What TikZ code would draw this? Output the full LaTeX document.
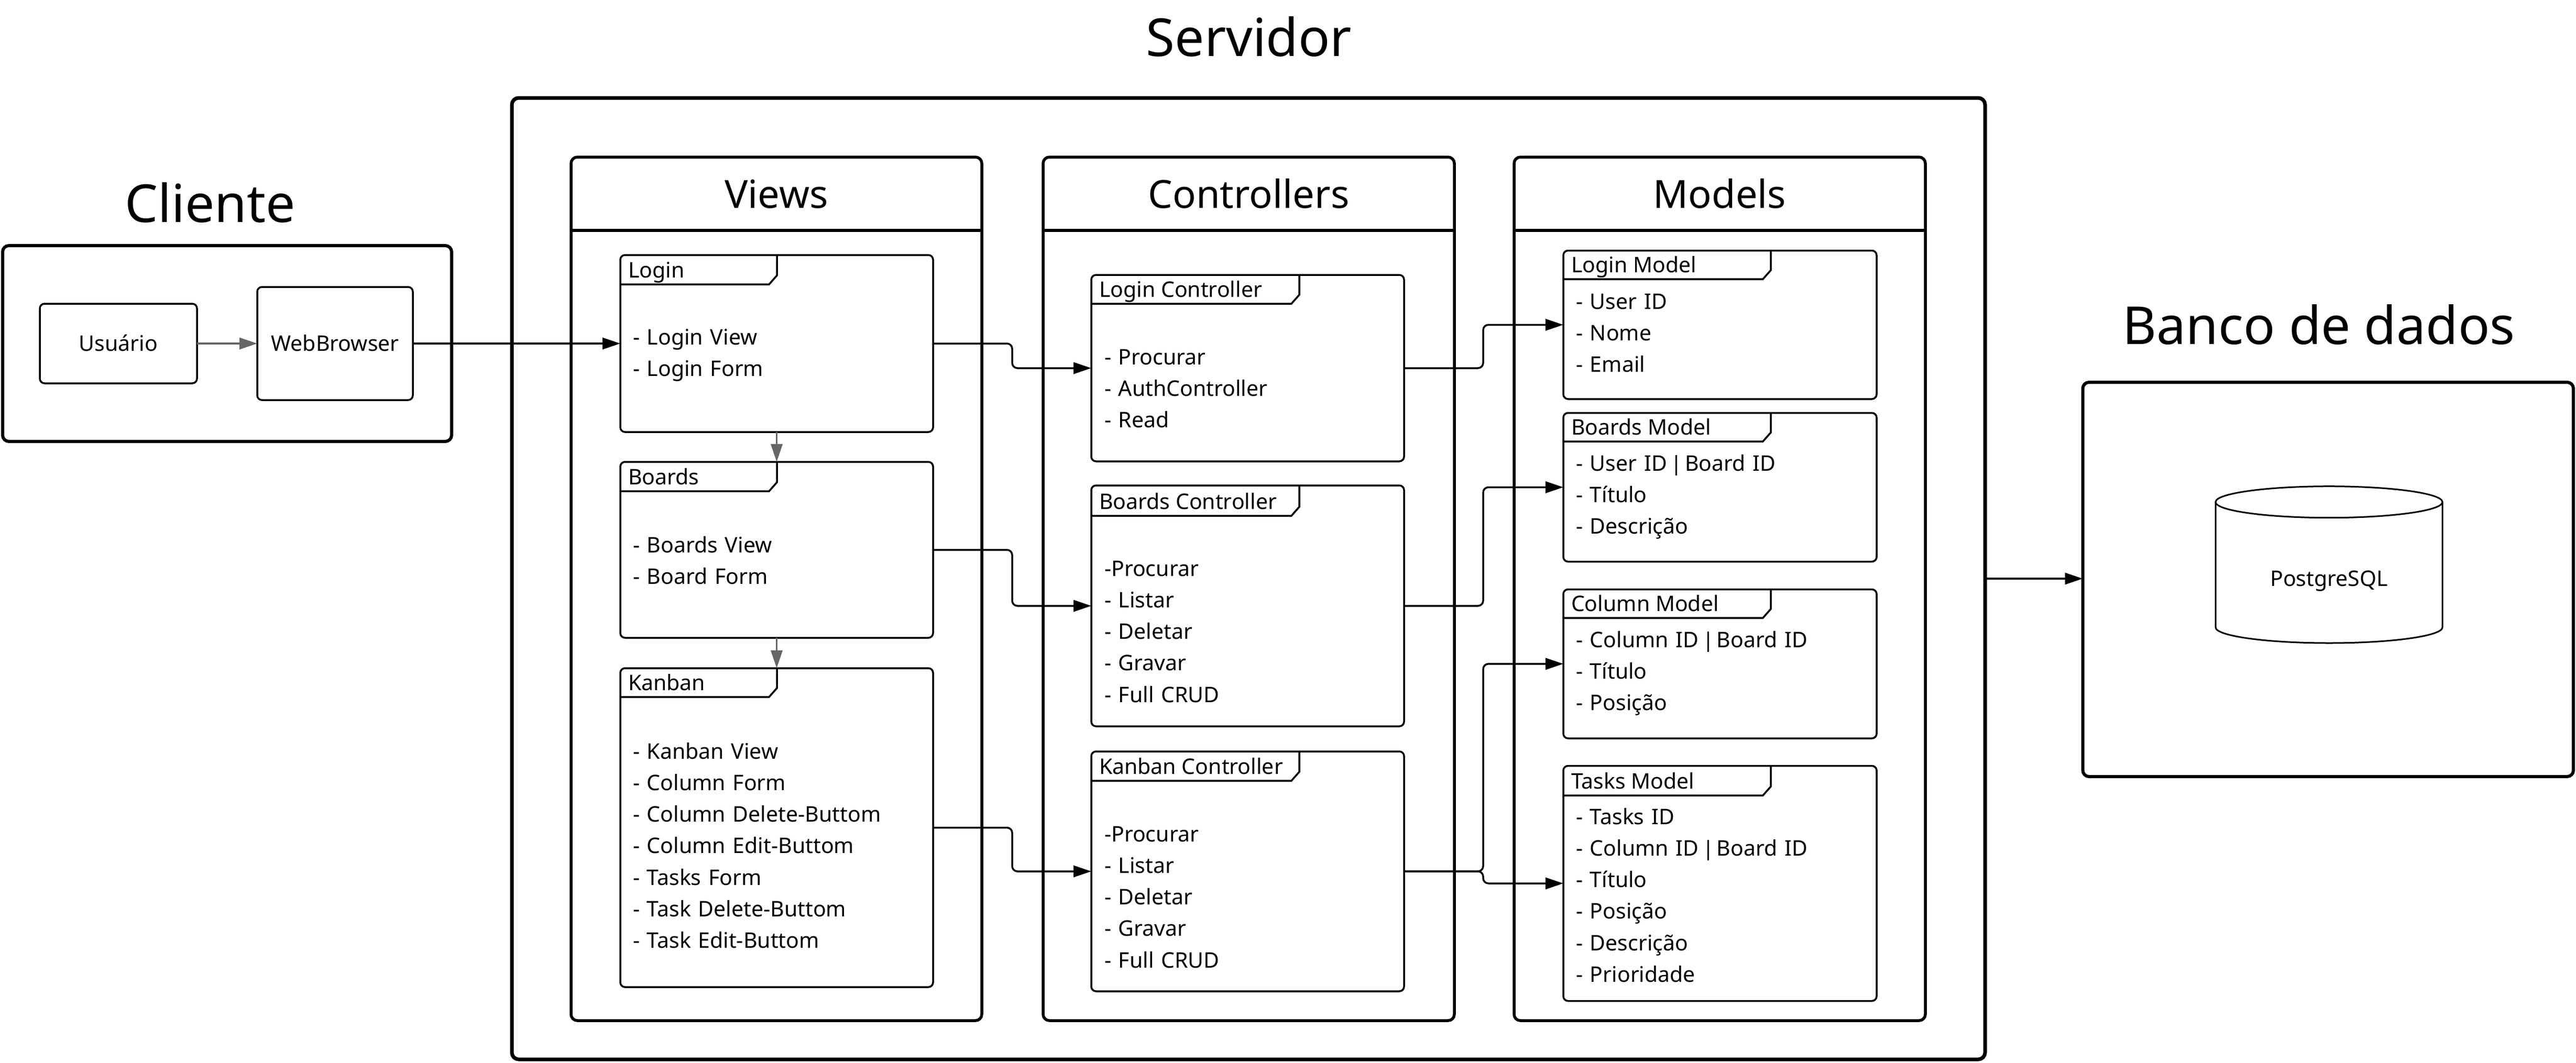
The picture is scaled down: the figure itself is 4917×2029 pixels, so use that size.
\documentclass[tikz,border=0pt]{standalone}
\usepackage{fontspec}
\setmainfont{Noto Sans}
\usetikzlibrary{arrows.meta,fit,calc}
\definecolor{arrowgray}{HTML}{666666}
\newcommand\mytab[6]{%
  \draw[tabln] (#4,#3) -- (#4,#5-17) -- (#4-15,#5) -- (#2,#5);
  \node[small, anchor=base west] (#1-t) at (#2+15,#5-13) {#6};
}
\newcommand\mybar{\hspace{16pt}\rule[-9pt]{3pt}{39pt}\hspace{15pt}}
\begin{document}
\begin{tikzpicture}[x=1pt,y=-1pt,
  every node/.style={inner sep=0pt, outer sep=0pt},
  srvbox/.style={draw, line width=7pt, rounded corners=13pt},
  outbox/.style={draw, line width=6pt, rounded corners=12pt},
  colbox/.style={draw, line width=5.5pt, rounded corners=12pt},
  colln/.style={line width=5.5pt},
  ibox/.style={draw, line width=3.5pt, rounded corners=9pt},
  tabln/.style={line width=3.5pt, line join=miter},
  conn/.style={line width=3.5pt, rounded corners=10pt, -{Triangle[length=34pt,width=22pt]}},
  gconn/.style={conn, draw=arrowgray},
  small/.style={font=\fontsize{41}{60.3}\selectfont},
  items/.style={small, align=left, text width=540pt, anchor=base west},
  head/.style={font=\fontsize{74}{88}\selectfont},
  big/.style={font=\fontsize{100}{120}\selectfont}]
\useasboundingbox (0,0) rectangle (4917,2029);

% titles
\node[big, anchor=base] (tcli) at (401,424) {Cliente};
\node[big, anchor=base] (tsrv) at (2384,107) {Servidor};
\node[big, anchor=base] (tdb) at (4426,657) {Banco de dados};

% client
\node[outbox, fit={(5,469) (862,843)}] (cli) {};
\node[ibox, fit={(76,580) (376,732)}] (usr) {};
\node[small, anchor=base] (usr-l) at (226,670) {Usuário};
\node[ibox, fit={(491,548) (788,764)}] (web) {};
\node[small, anchor=base] (web-l) at (639.5,670) {WebBrowser};

% server
\node[srvbox, fit={(977,187) (3789,2023)}] (srv) {};
\coordinate (hd) at (0,440);
\node[colbox, fit={(1090,300) (1874,1949)}] (views) {};
\draw[colln] (views.west |- hd) -- (views.east |- hd);
\node[head, anchor=base] (views-h) at (1482,397) {Views};
\node[colbox, fit={(1991,300) (2776,1949)}] (ctrls) {};
\draw[colln] (ctrls.west |- hd) -- (ctrls.east |- hd);
\node[head, anchor=base] (ctrls-h) at (2383.5,397) {Controllers};
\node[colbox, fit={(2890,300) (3675,1949)}] (models) {};
\draw[colln] (models.west |- hd) -- (models.east |- hd);
\node[head, anchor=base] (models-h) at (3282.5,397) {Models};

% views
\node[ibox, fit={(1184,487) (1781,825)}] (login) {};
\mytab{login}{1184}{487}{1483}{543}{Login}
\node[items] (login-i) at (1208,658) {- Login View\\- Login Form};
\node[ibox, fit={(1184,882) (1781,1218)}] (boards) {};
\mytab{boards}{1184}{882}{1483}{938}{Boards}
\node[items] (boards-i) at (1208,1055) {- Boards View\\- Board Form};
\node[ibox, fit={(1184,1276) (1781,1885)}] (kanban) {};
\mytab{kanban}{1184}{1276}{1483}{1331}{Kanban}
\node[items] (kanban-i) at (1208,1449) {- Kanban View\\- Column Form\\- Column Delete-Buttom\\- Column Edit-Buttom\\- Tasks Form\\- Task Delete-Buttom\\- Task Edit-Buttom};

% controllers
\node[ibox, fit={(2083,525) (2680,881)}] (lctrl) {};
\mytab{lctrl}{2083}{525}{2480}{580}{Login Controller}
\node[items] (lctrl-i) at (2108,696) {- Procurar\\- AuthController\\- Read};
\node[ibox, fit={(2083,927) (2680,1387)}] (bctrl) {};
\mytab{bctrl}{2083}{927}{2480}{985}{Boards Controller}
\node[items] (bctrl-i) at (2108,1100) {-Procurar\\- Listar\\- Deletar\\- Gravar\\- Full CRUD};
\node[ibox, fit={(2083,1435) (2680,1893)}] (kctrl) {};
\mytab{kctrl}{2083}{1435}{2480}{1491}{Kanban Controller}
\node[items] (kctrl-i) at (2108,1607) {-Procurar\\- Listar\\- Deletar\\- Gravar\\- Full CRUD};

% models
\node[ibox, fit={(2984,478.5) (3582,762)}] (lmod) {};
\mytab{lmod}{2984}{478.5}{3380}{533}{Login Model}
\node[items] (lmod-i) at (3008,590) {- User ID\\- Nome\\- Email};
\node[ibox, fit={(2984,788.5) (3582,1072.5)}] (bmod) {};
\mytab{bmod}{2984}{788.5}{3380}{843}{Boards Model}
\node[items] (bmod-i) at (3008,899) {- User ID\mybar Board ID\\- Título\\- Descrição};
\node[ibox, fit={(2984,1125.5) (3582,1410)}] (cmod) {};
\mytab{cmod}{2984}{1125.5}{3380}{1180}{Column Model}
\node[items] (cmod-i) at (3008,1236) {- Column ID\mybar Board ID\\- Título\\- Posição};
\node[ibox, fit={(2984,1462.5) (3582,1911.5)}] (tmod) {};
\mytab{tmod}{2984}{1462.5}{3380}{1519}{Tasks Model}
\node[items] (tmod-i) at (3008,1574) {- Tasks ID\\- Column ID\mybar Board ID\\- Título\\- Posição\\- Descrição\\- Prioridade};

% database
\node[outbox, fit={(3975.5,730) (4912,1483)}] (db) {};
\draw[line width=3pt] (4229,958.7) -- (4229,1198) arc[start angle=180, end angle=360, x radius=216.5pt, y radius=30pt] -- (4662,958.7);
\draw[line width=3pt] (4445.5,958.7) ellipse[x radius=216.5pt, y radius=30pt];
\node[small, anchor=base] (pg) at (4445.5,1119) {PostgreSQL};

% connectors
\coordinate (j1) at (1932,0);
\coordinate (j2) at (2831,0);
\draw[gconn] (usr.east) -- (usr.east -| web.west);
\draw[conn] (web.east) -- (web.east -| login.west);
\draw[gconn] (login.south) -- (boards.north);
\draw[gconn] (boards.south) -- (kanban.north);
\draw[conn] (login.east) -- (j1 |- login.east) -- (j1 |- lctrl.west) -- (lctrl.west);
\draw[conn] (boards.east) -- (j1 |- boards.east) -- (j1 |- bctrl.west) -- (bctrl.west);
\draw[conn] (kanban.east) -- (j1 |- kanban.east) -- (j1 |- kctrl.west) -- (kctrl.west);
\draw[conn] (lctrl.east) -- (j2 |- lctrl.east) -- (j2 |- lmod.west) -- (lmod.west);
\draw[conn] (bctrl.east) -- (j2 |- bctrl.east) -- (j2 |- bmod.west) -- (bmod.west);
\draw[conn] (kctrl.east) -- (j2 |- kctrl.east) -- (j2 |- cmod.west) -- (cmod.west);
\draw[conn] (kctrl.east) -- (j2 |- kctrl.east) -- (j2 |- tmod.west) -- (tmod.west);
\draw[conn] (srv.east) -- (srv.east -| db.west);
\end{tikzpicture}
\end{document}
